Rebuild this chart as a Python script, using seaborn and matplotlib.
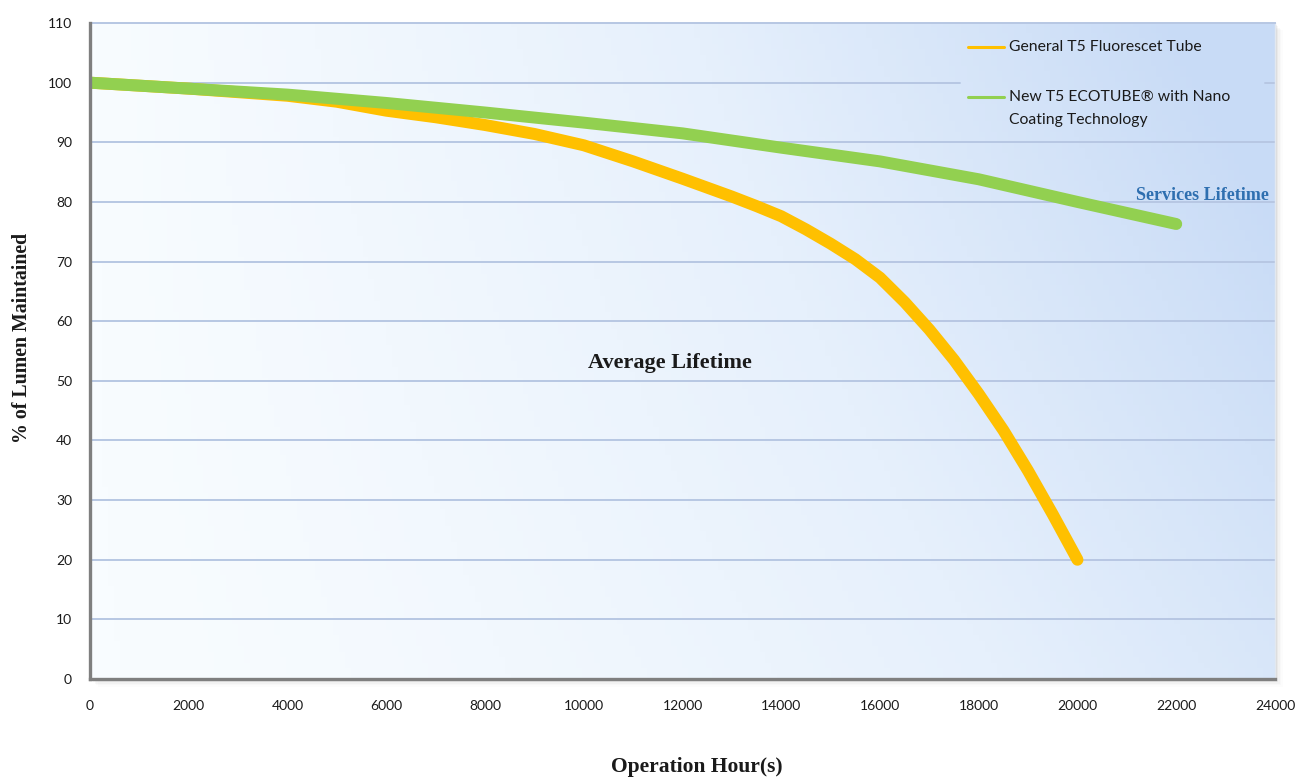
import numpy as np
import pandas as pd
import matplotlib
matplotlib.use("Agg")
import matplotlib.pyplot as plt
from matplotlib.lines import Line2D
from matplotlib.patches import Rectangle
from matplotlib.colors import LinearSegmentedColormap
import seaborn as sns

# ---- data ----
general_hours = [0, 2000, 4000, 5000, 6000, 7000, 8000, 9000, 10000, 11000, 12000, 13000,
                 13500, 14000, 14500, 15000, 15500, 16000, 16500, 17000, 17500, 18000,
                 18500, 19000, 19500, 20000]
general_lumen = [100, 99.0, 97.8, 96.8, 95.3, 94.2, 92.9, 91.4, 89.5, 86.8, 83.9, 80.9,
                 79.3, 77.6, 75.4, 73.0, 70.4, 67.3, 63.2, 58.6, 53.5, 47.8,
                 41.7, 34.9, 27.6, 20.0]
eco_hours = [0, 2000, 4000, 6000, 8000, 10000, 12000, 14000, 16000, 18000, 20000, 22000]
eco_lumen = [100, 99.0, 98.0, 96.6, 95.0, 93.3, 91.5, 89.1, 86.8, 83.8, 80.0, 76.3]
series_names = ["General T5 Fluorescet Tube", "New T5 ECOTUBE\u00ae with Nano\nCoating Technology"]
series_colors = ["#FFC000", "#92D050"]
x_ticks = list(range(0, 24001, 2000))
y_ticks = list(range(0, 111, 10))

df = pd.concat([
    pd.DataFrame({"hours": general_hours, "lumen": general_lumen, "series": series_names[0]}),
    pd.DataFrame({"hours": eco_hours, "lumen": eco_lumen, "series": series_names[1]}),
], ignore_index=True)

sns.set_theme(style="white")
plt.rcParams["font.family"] = ["Lato", "DejaVu Sans"]
serif = ["Liberation Serif", "DejaVu Serif"]

fig = plt.figure(figsize=(12.99, 7.78), dpi=100)
fig.patch.set_facecolor("white")
ax_rect = [0.0693, 0.1272, 0.9122, 0.8432]

ax = fig.add_axes(ax_rect)
ax.set_zorder(2)

# soft shadow behind plot area (below the axes)
for i, a in enumerate([0.05, 0.035, 0.025, 0.015, 0.01]):
    off = (i + 1) * 0.0012
    fig.patches.append(Rectangle((ax_rect[0] + off, ax_rect[1] - off * 1.6), ax_rect[2], ax_rect[3],
                                 transform=fig.transFigure, facecolor="black", alpha=a,
                                 edgecolor="none", zorder=-5))

# gradient background
nx, ny = 200, 120
xs = np.linspace(0, 1, nx)
ys = np.linspace(0, 1, ny)
X, Y = np.meshgrid(xs, ys)
T = np.clip(0.72 * X ** 1.4 + 0.38 * Y * X ** 0.8, 0, 1)
cmap = LinearSegmentedColormap.from_list("bg", ["#f8fcff", "#e6f0fc", "#c8dbf6"])
ax.imshow(T, cmap=cmap, extent=[0, 24000, 0, 110], origin="lower",
          aspect="auto", zorder=0, vmin=0, vmax=1)

# legend box region (axes fraction)
lg_x0, lg_x1 = 0.734, 0.9916

# grid
for yv in y_ticks[1:]:
    if yv == 100:
        ax.axhline(yv, xmin=0, xmax=lg_x0, color="#b7c7e3", lw=1.4, zorder=1)
        ax.axhline(yv, xmin=lg_x1, xmax=1, color="#b7c7e3", lw=1.4, zorder=1)
    else:
        ax.axhline(yv, color="#b7c7e3", lw=1.4, zorder=1)

sns.lineplot(data=df, x="hours", y="lumen", hue="series",
             hue_order=series_names, palette=series_colors,
             linewidth=8.6, ax=ax, legend=False, estimator=None, sort=False)
lines = ax.get_lines()
for ln in lines:
    ln.set_solid_capstyle("round")
    ln.set_solid_joinstyle("round")
lines[-2].set_zorder(3)
lines[-1].set_zorder(4)

ax.set_xlim(0, 24000)
ax.set_ylim(0, 110)
ax.set_xticks(x_ticks)
ax.set_yticks(y_ticks)
ax.set_xticklabels([str(v) for v in x_ticks], fontsize=10)
ax.set_yticklabels([str(v) for v in y_ticks], fontsize=10)
ax.tick_params(axis="x", direction="in", length=4, width=1, color="#808080", pad=15, labelcolor="#1a1a1a")
ax.tick_params(axis="y", direction="in", length=4, width=1, color="#808080", pad=13, labelcolor="#1a1a1a")

for side in ["left", "bottom"]:
    ax.spines[side].set_color("#7f7f7f")
    ax.spines[side].set_linewidth(2.4)
    ax.spines[side].set_zorder(5)
ax.spines["top"].set_color("#b7c7e3")
ax.spines["top"].set_linewidth(1.4)
ax.spines["right"].set_color("#e2e8f0")
ax.spines["right"].set_linewidth(1.0)

ax.set_xlabel("Operation Hour(s)", family=serif, fontsize=15.5, fontweight="bold", color="#1a1a1a")
ax.set_ylabel("% of Lumen Maintained", family=serif, fontsize=14.3, fontweight="bold", color="#1a1a1a")
ax.xaxis.set_label_coords(0.512, -0.119)
ax.yaxis.set_label_coords(-0.049, 0.52)

ax.text(11750, 53, "Average Lifetime", family=serif, fontsize=16, fontweight="bold",
        color="#1a1a1a", ha="center", va="center", zorder=6)
ax.text(23870, 81.1, "Services Lifetime", family=serif, fontsize=13, fontweight="bold",
        color="#2e6fb0", ha="right", va="center", zorder=6)

# legend drawn in axes fraction coordinates
handle_x = [0.741, 0.771]
text_x = 0.7755
label_rows = [[0.9634], [0.8872, 0.8521]]
for color, name, rows in zip(series_colors, series_names, label_rows):
    ax.add_line(Line2D(handle_x, [rows[0], rows[0]], transform=ax.transAxes,
                       color=color, lw=2.2, zorder=7))
    for txt, yy in zip(name.split("\n"), rows):
        ax.text(text_x, yy, txt, transform=ax.transAxes, fontsize=11.3,
                color="#1a1a1a", ha="left", va="center", zorder=7)

fig.savefig("out.png", dpi=100, facecolor="white")
